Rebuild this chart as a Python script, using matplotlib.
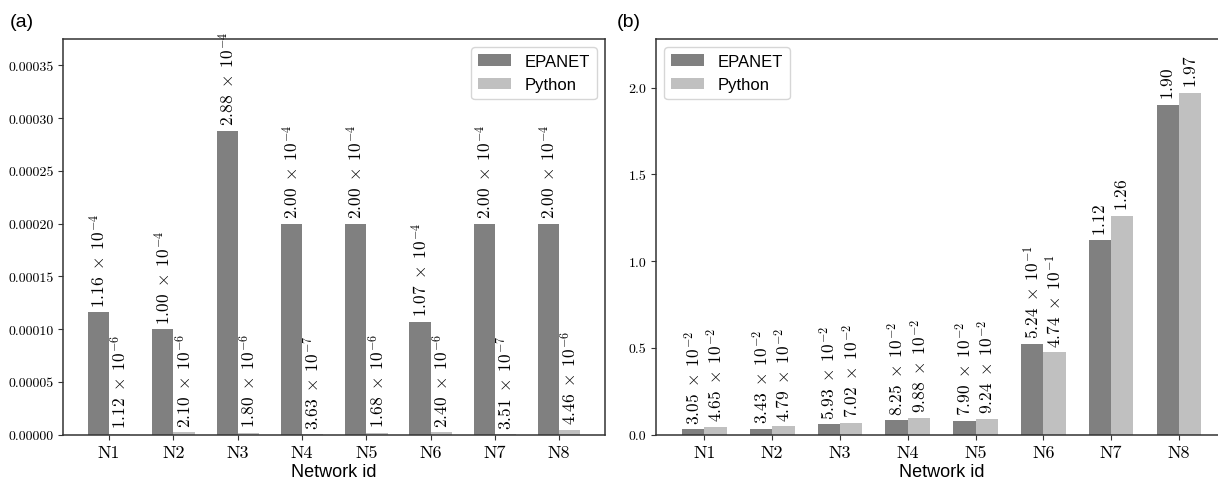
import numpy as np
import matplotlib
matplotlib.use("Agg")
import matplotlib.pyplot as plt
import matplotlib.ticker as mtick

plt.rcParams['mathtext.fontset'] = 'cm'
plt.rcParams['font.family'] = ['Liberation Sans', 'DejaVu Sans']

networks = ['N1', 'N2', 'N3', 'N4', 'N5', 'N6', 'N7', 'N8']

# (a) values
epanet_a = [1.16e-4, 1.00e-4, 2.88e-4, 2.00e-4, 2.00e-4, 1.07e-4, 2.00e-4, 2.00e-4]
python_a = [1.12e-6, 2.10e-6, 1.80e-6, 3.63e-7, 1.68e-6, 2.40e-6, 3.51e-7, 4.46e-6]

# (b) values
epanet_b = [3.05e-2, 3.43e-2, 5.93e-2, 8.25e-2, 7.90e-2, 5.24e-1, 1.12, 1.90]
python_b = [4.65e-2, 4.79e-2, 7.02e-2, 9.88e-2, 9.24e-2, 4.74e-1, 1.26, 1.97]

c_epanet = '#808080'
c_python = '#c0c0c0'
width = 0.33


def fmt_label(v):
    if v >= 1:
        return r'$%.2f$' % v
    e = int(np.floor(np.log10(v)))
    m = v / 10 ** e
    return r'$%.2f\;\times\;10^{%d}$' % (m, e)


def draw(ax, ep, py, ylim, yticks, yfmt, legend_loc):
    x = np.arange(len(networks))
    b1 = ax.bar(x, ep, width=-width, align='edge', color=c_epanet, label='EPANET')
    b2 = ax.bar(x, py, width=width, align='edge', color=c_python, label='Python')
    for bars, vals in ((b1, ep), (b2, py)):
        for rect, v in zip(bars, vals):
            ax.annotate(fmt_label(v),
                        xy=(rect.get_x() + rect.get_width() / 2, rect.get_height()),
                        xytext=(0, 4), textcoords='offset points',
                        ha='center', va='bottom', rotation=90, fontsize=12.5)
    ax.set_ylim(*ylim)
    ax.set_yticks(yticks)
    ax.set_xticks(x)
    ax.set_xticklabels(networks, fontfamily='cmr10', fontsize=13)
    ax.yaxis.set_major_formatter(mtick.StrMethodFormatter(yfmt))
    for lab in ax.get_yticklabels():
        lab.set_fontfamily('cmr10')
        lab.set_fontsize(10)
    ax.set_xlabel('Network id', fontsize=13, labelpad=2)
    for s in ax.spines.values():
        s.set_color('#333333')
        s.set_linewidth(1.1)
    ax.tick_params(colors='#333333', labelcolor='black')
    ax.legend(loc=legend_loc, fontsize=12)


fig = plt.figure(figsize=(12.18, 4.81), dpi=100)
ax1 = fig.add_axes([0.052, 0.0942, 0.4447, 0.8226])
ax2 = fig.add_axes([0.5386, 0.0942, 0.469, 0.8226])

draw(ax1, epanet_a, python_a, (0, 0.000375), np.arange(0, 0.00036, 0.00005),
     '{x:.5f}', 'upper right')
draw(ax2, epanet_b, python_b, (0, 2.28), np.arange(0, 2.01, 0.5),
     '{x:.1f}', 'upper left')

fig.text(0.0077, 0.954, '(a)', fontsize=14, va='center')
fig.text(0.5066, 0.954, '(b)', fontsize=14, va='center')

fig.savefig('out.png', dpi=100)
